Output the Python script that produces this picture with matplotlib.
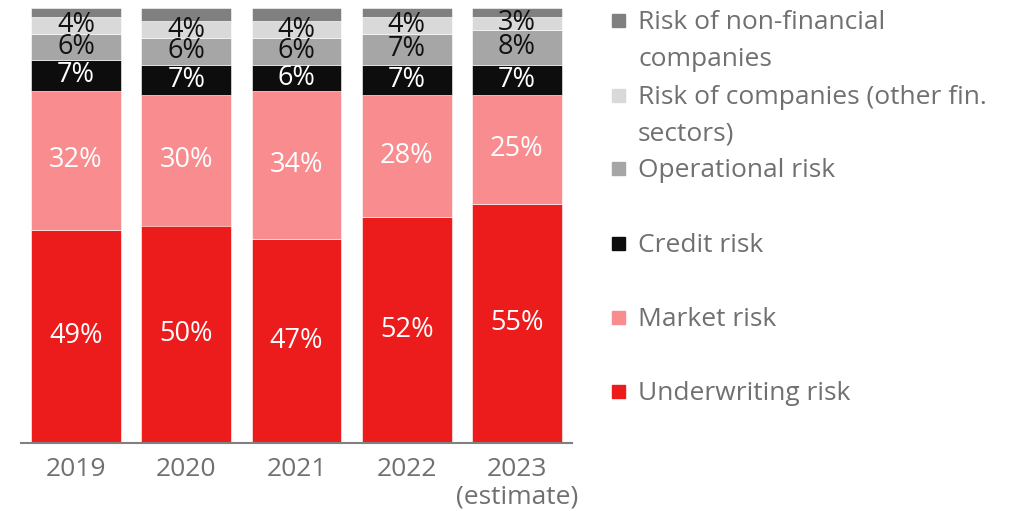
import matplotlib.pyplot as plt
from matplotlib.patches import Rectangle
import numpy as np

plt.rcParams['font.family'] = ['Open Sans', 'DejaVu Sans']

years = ["2019", "2020", "2021", "2022", "2023\n(estimate)"]
underwriting = [49, 50, 47, 52, 55]
market = [32, 30, 34, 28, 25]
credit = [7, 7, 6, 7, 7]
operational = [6, 6, 6, 7, 8]
other_fin = [4, 4, 4, 4, 3]
non_fin = [2, 3, 3, 2, 2]

series = [
    ("Underwriting risk", underwriting, "#ED1C1C", "white"),
    ("Market risk", market, "#F98C8F", "white"),
    ("Credit risk", credit, "#0D0D0D", "white"),
    ("Operational risk", operational, "#A6A6A6", "#111111"),
    ("Risk of companies (other fin.\nsectors)", other_fin, "#D9D9D9", "#111111"),
    ("Risk of non-financial\ncompanies", non_fin, "#808080", None),
]

W, H = 1013, 511
fig = plt.figure(figsize=(W / 100, H / 100), dpi=100)
ax = fig.add_axes([21 / W, (H - 443) / H, (572 - 21) / W, (443 - 8) / H])

x = np.arange(len(years))
bottom = np.zeros(len(years))
for name, vals, color, tcolor in series:
    vals = np.array(vals, dtype=float)
    ax.bar(x, vals, bottom=bottom, width=0.816, color=color, edgecolor="white", linewidth=0.4)
    if tcolor is not None:
        for xi, b, v in zip(x, bottom, vals):
            ax.text(xi, b + v / 2, f"{int(v)}%", ha="center", va="center",
                    color=tcolor, fontsize=19.5)
    bottom += vals

ax.set_xlim(-0.5, 4.5)
ax.set_ylim(0, 100)
ax.set_xticks(x)
ax.set_xticklabels(years, fontsize=19, color="#707070", linespacing=1.15)
ax.tick_params(axis="x", length=0, pad=10)
ax.set_yticks([])
for s in ["top", "right", "left"]:
    ax.spines[s].set_visible(False)
ax.spines["bottom"].set_color("#808080")
ax.spines["bottom"].set_linewidth(1.5)

# legend, drawn by hand so the spacing matches
leg_y = [20, 95, 168, 243, 317, 391]
for (name, vals, color, tcolor), yp in zip(series[::-1], leg_y):
    fig.patches.append(Rectangle((612 / W, (H - yp - 7) / H), 13 / W, 13 / H,
                                 transform=fig.transFigure, color=color))
    fig.text(638 / W, (H - yp + 10) / H, name, ha="left", va="top", fontsize=19,
             color="#707070", linespacing=1.62)

fig.savefig("out.png", dpi=100)
